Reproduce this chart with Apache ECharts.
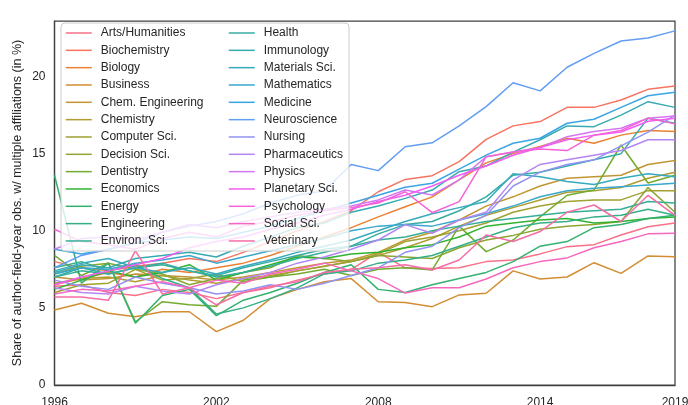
<!DOCTYPE html>
<html>
<head>
<meta charset="utf-8">
<script src="https://cdn.jsdelivr.net/npm/echarts@6/dist/echarts.min.js"></script>
<style>
html,body{margin:0;padding:0;background:#fff;}
#chart{width:688px;height:405px;}
</style>
</head>
<body>
<div id="chart"></div>
<script>
const years = ['1996','1997','1998','1999','2000','2001','2002','2003','2004','2005','2006','2007','2008','2009','2010','2011','2012','2013','2014','2015','2016','2017','2018','2019'];
const xTickLabels = ['1996','2002','2008','2014','2019'];
const yTicks = [0, 5, 10, 15, 20];
const fields = ['Arts/Humanities','Biochemistry','Biology','Business','Chem. Engineering','Chemistry','Computer Sci.','Decision Sci.','Dentistry','Economics','Energy','Engineering','Environ. Sci.','Health','Immunology','Materials Sci.','Mathematics','Medicine','Neuroscience','Nursing','Pharmaceutics','Physics','Planetary Sci.','Psychology','Social Sci.','Veterinary'];

const artsHumanities = [6.4,6.5,6.0,5.8,6.2,6.0,5.6,6.0,6.3,6.8,7.2,7.5,8.6,7.6,7.55,7.6,8.0,8.1,8.5,8.97,9.1,9.73,10.26,10.5];
const biochemistry = [8.0,7.6,7.4,7.7,7.9,8.2,8.0,8.6,9.3,10.0,10.6,11.3,12.53,13.33,13.57,14.48,15.93,16.8,17.08,18.0,18.0,18.48,19.17,19.39];
const biology = [6.5,6.9,7.3,7.0,7.5,7.3,7.6,7.9,8.4,9.0,9.6,10.2,10.9,11.56,12.2,13.3,14.4,15.0,15.46,16.0,15.67,16.2,16.5,16.43];
const business = [4.86,5.3,4.65,4.43,4.75,4.75,3.46,4.2,5.6,6.2,6.7,6.9,5.4,5.35,5.08,5.84,5.95,7.4,6.87,7.0,7.93,7.24,8.37,8.32];
const chemEngineering = [7.0,6.8,6.9,7.2,7.1,7.0,6.8,7.0,7.3,7.6,7.9,8.1,8.6,9.4,9.9,10.7,11.6,12.2,12.9,13.4,13.5,13.6,14.3,14.55];
const chemistry = [6.6,6.9,7.0,6.7,7.1,6.8,6.6,6.9,7.1,7.4,7.7,8.0,8.4,8.9,9.5,10.3,11.0,11.5,12.0,12.5,12.6,12.8,13.4,13.8];
const computerSci = [6.0,6.5,6.6,7.5,6.8,6.9,7.2,6.7,7.0,7.4,7.7,8.0,8.5,9.3,9.6,10.0,10.5,11.2,11.6,11.9,12.0,12.0,12.6,12.6];
const decisionSci = [7.2,7.7,7.9,7.5,7.2,6.5,6.9,7.3,7.6,8.4,8.2,8.0,8.4,8.3,8.2,8.9,9.4,9.7,10.1,10.3,10.4,10.6,12.8,11.2];
const dentistry = [8.4,7.1,7.9,4.1,5.4,5.2,5.1,6.8,7.0,7.2,7.5,7.1,7.5,7.6,7.46,10.3,8.65,9.4,10.9,12.3,12.65,15.56,13.1,13.6];
const economics = [6.2,6.8,7.4,7.0,7.3,7.8,6.8,7.3,7.8,8.3,8.2,8.5,8.6,8.9,9.1,9.6,10.3,10.5,10.7,10.8,10.5,10.6,10.8,10.9];
const energy = [13.6,6.6,7.9,4.0,5.8,6.2,4.5,5.5,6.0,6.6,7.3,7.8,6.2,6.0,6.5,6.9,7.3,8.0,9.0,9.3,10.2,10.4,10.8,11.0];
const engineering = [7.6,8.0,7.4,7.8,6.9,6.3,4.6,5.0,5.6,6.3,7.2,7.4,7.9,8.1,8.4,9.0,9.6,10.2,10.5,10.6,10.9,11.0,11.4,11.0];
const environSci = [7.0,7.4,7.2,7.6,7.8,7.4,7.0,7.3,7.7,8.2,8.6,9.0,9.4,9.6,10.0,10.3,10.6,10.8,11.0,11.2,11.3,11.4,11.9,11.8];
const health = [7.0,7.6,7.2,7.6,7.9,7.4,7.1,7.6,8.0,8.4,8.8,9.0,9.8,10.4,10.6,11.3,12.2,13.6,13.8,14.2,14.6,15.0,17.3,16.97];
const immunology = [7.3,7.8,7.6,8.2,8.4,8.6,8.3,9.0,9.6,10.2,10.5,11.2,11.6,12.1,12.64,13.83,14.2,15.1,15.9,16.8,16.75,17.5,18.37,18.0];
const materialsSci = [7.4,7.9,8.2,7.6,7.3,7.6,7.2,7.7,8.1,8.6,9.0,9.4,10.0,10.6,11.1,11.5,11.9,13.7,13.5,13.2,13.0,13.4,13.7,13.5];
const mathematics = [7.2,7.6,7.5,7.9,8.1,8.4,7.9,8.3,8.7,9.1,9.5,10.0,10.3,10.4,10.3,10.7,11.1,11.6,12.2,12.6,12.75,12.86,12.97,13.08];
const medicine = [8.8,8.5,8.8,9.2,9.4,9.6,9.5,9.9,10.3,10.8,11.3,11.8,12.3,12.82,13.08,14.0,14.9,15.67,16.0,16.97,17.23,18.0,18.75,18.98];
const neuroscience = [7.6,8.4,8.8,9.2,9.9,10.3,10.6,11.1,11.8,12.3,12.6,14.3,13.9,15.45,15.7,16.8,18.05,19.6,19.07,20.6,21.5,22.3,22.5,22.96];
const nursing = [6.8,6.4,6.2,7.0,6.6,6.3,5.9,6.1,6.5,6.2,6.6,7.1,7.6,8.6,9.0,10.2,11.0,12.9,13.8,14.3,14.6,15.5,16.4,17.5];
const pharmaceutics = [6.3,6.0,5.9,6.4,6.1,5.9,6.5,6.9,7.3,7.9,8.3,8.8,9.4,10.4,9.84,10.7,11.2,13.3,14.3,14.6,14.9,15.2,15.9,15.9];
const physics = [8.8,9.5,9.6,9.4,9.9,10.4,10.2,10.6,10.9,11.2,11.4,11.6,12.0,12.64,12.32,13.3,14.8,15.1,15.4,16.1,16.43,16.65,17.3,17.44];
const planetarySci = [6.5,7.0,7.4,7.8,8.2,8.9,9.3,9.6,10.1,10.5,11.0,11.4,11.9,12.3,12.9,13.6,14.2,14.9,15.4,15.9,16.2,16.4,17.1,17.3];
const psychology = [10.1,9.3,9.1,8.8,9.5,9.9,9.6,10.3,10.6,11.0,11.3,11.5,11.8,12.53,11.17,11.89,14.8,15.1,15.3,15.2,16.2,16.5,17.3,16.93];
const socialSci = [5.9,6.2,6.1,6.4,6.7,6.3,6.8,6.6,7.2,7.5,7.9,7.4,6.9,5.96,6.3,6.3,6.87,7.6,8.0,8.24,8.9,9.3,9.8,9.84];
const veterinary = [5.7,5.7,5.5,8.7,5.9,6.3,5.2,6.0,6.4,6.7,7.3,7.5,7.6,7.8,7.46,8.1,9.73,9.3,9.95,11.2,11.67,10.6,12.3,11.0];

const seriesValues = [artsHumanities,biochemistry,biology,business,chemEngineering,chemistry,computerSci,decisionSci,dentistry,economics,energy,engineering,environSci,health,immunology,materialsSci,mathematics,medicine,neuroscience,nursing,pharmaceutics,physics,planetarySci,psychology,socialSci,veterinary];

// HUSL (HSLuv) -> RGB, as used by seaborn's husl_palette
const M = [[3.240969941904521,-1.537383177570093,-0.498610760293],
           [-0.96924363628087,1.87596750150772,0.041555057407175],
           [0.055630079696993,-0.20397695888897,1.056971514242878]];
const refU = 0.19783000664283, refV = 0.46831999493879, kappa = 903.2962962, eps = 0.0088564516;
function getBounds(l){
  const sub1 = Math.pow(l+16,3)/1560896;
  const sub2 = sub1 > eps ? sub1 : l/kappa;
  const res = [];
  for (const [m1,m2,m3] of M){
    for (const t of [0,1]){
      const top1 = (284517*m1 - 94839*m3)*sub2;
      const top2 = (838422*m3 + 769860*m2 + 731718*m1)*l*sub2 - 769860*t*l;
      const bottom = (632260*m3 - 126452*m2)*sub2 + 126452*t;
      res.push([top1/bottom, top2/bottom]);
    }
  }
  return res;
}
function maxChroma(l,h){
  const hr = h/360*2*Math.PI;
  let min = Infinity;
  for (const [slope, intercept] of getBounds(l)){
    const len = intercept/(Math.sin(hr) - slope*Math.cos(hr));
    if (len >= 0 && len < min) min = len;
  }
  return min;
}
function fromLinear(c){ return c <= 0.0031308 ? 12.92*c : 1.055*Math.pow(c,1/2.4) - 0.055; }
function huslToHex(h,s,l){
  const c = maxChroma(l,h)/100*s;
  const hr = h/360*2*Math.PI;
  const u = Math.cos(hr)*c, v = Math.sin(hr)*c;
  const varU = u/(13*l) + refU, varV = v/(13*l) + refV;
  const Y = l <= 8 ? l/kappa : Math.pow((l+16)/116,3);
  const X = -(9*Y*varU)/((varU-4)*varV - varU*varV);
  const Z = (9*Y - 15*varV*Y - varV*X)/(3*varV);
  const rgb = M.map(r => Math.min(1, Math.max(0, fromLinear(r[0]*X + r[1]*Y + r[2]*Z))));
  return '#' + rgb.map(x => Math.round(x*255).toString(16).padStart(2,'0')).join('');
}
const n = fields.length;
const colors = fields.map((_, i) => {
  const h = ((i/n + 0.01) % 1) * 359;
  return huslToHex(h, 0.9*99, 0.65*99);
});

const FONT = '"Liberation Sans", Arial, sans-serif';
const TXT = '#262626';

const chart = echarts.init(document.getElementById('chart'), null, {renderer: 'canvas'});
const legendCommon = {
  orient: 'vertical', padding: 0, itemWidth: 26, itemHeight: 14, itemGap: 3.33,
  selectedMode: false,
  itemStyle: {opacity: 0},
  lineStyle: {width: 1.5},
  textStyle: {fontSize: 12, lineHeight: 14, color: TXT, fontFamily: FONT, padding: [0,0,0,4]}
};
chart.setOption({
  animation: false,
  color: colors,
  textStyle: {fontFamily: FONT},
  grid: {left: 54.5, right: 13, top: 21, bottom: 20, show: true, borderColor: '#404040', borderWidth: 1.25,
         containLabel: false, outerBoundsMode: 'none'},
  legend: [
    Object.assign({left: 65, top: 26, data: fields.slice(0, 13)}, legendCommon),
    Object.assign({left: 228, top: 26, data: fields.slice(13)}, legendCommon)
  ],
  graphic: {elements: [{
    type: 'rect', z: 3, silent: true,
    shape: {x: 61, y: 23, width: 288, height: 228, r: 4},
    style: {fill: 'rgba(255,255,255,0.8)', stroke: '#cccccc', lineWidth: 1}
  }]},
  xAxis: {
    type: 'category', data: years, boundaryGap: false,
    axisLine: {show: true, lineStyle: {color: '#404040', width: 1.25}},
    axisTick: {show: false},
    axisLabel: {fontSize: 12, color: TXT, fontFamily: FONT, margin: 12,
      interval: (idx, val) => xTickLabels.includes(val)},
    splitLine: {show: false}
  },
  yAxis: {
    type: 'value', min: 0, max: 23.6, interval: 5,
    name: 'Share of author-field-year obs. w/ multiple affiliations (in %)',
    nameLocation: 'middle', nameGap: 30, nameMoveOverlap: false,
    nameTextStyle: {fontSize: 12.5, color: TXT, fontFamily: FONT},
    axisLine: {show: true, lineStyle: {color: '#404040', width: 1.25}},
    axisTick: {show: false},
    axisLabel: {fontSize: 12, color: TXT, fontFamily: FONT, margin: 9, showMaxLabel: false,
      formatter: v => yTicks.includes(v) ? String(v) : ''},
    splitLine: {show: false}
  },
  series: fields.map((name, i) => ({
    name, type: 'line', data: seriesValues[i], symbol: 'none', showSymbol: false,
    lineStyle: {width: 1.5}, emphasis: {disabled: true}, z: 2
  }))
});
</script>
</body>
</html>
